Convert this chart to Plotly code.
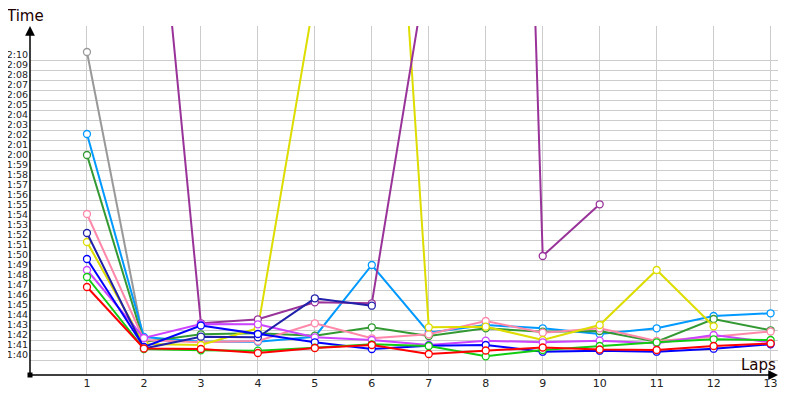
import plotly.graph_objects as go

laps = list(range(1, 14))

# lap times in seconds
red = [106.8, 100.65, 100.6, 100.2, 100.7, 101.0, 100.1, 100.45, 100.75, 100.55, 100.5, 100.9, 101.15]
green = [107.8, 100.6, 100.47, 100.43, 100.73, 101.07, 100.9, 99.87, 100.5, 100.9, 101.27, 101.57, 101.5]
dark_green = [120.0, 101.3, 102.07, 102.17, 101.93, 102.77, 101.9, 102.67, 102.33, 102.4, 101.33, 103.6, 102.47]
blue = [109.6, 100.8, 102.95, 102.1, 101.27, 100.6, 100.93, 101.0, 100.33, 100.43, 100.33, 100.63, 101.07]
navy = [112.2, 100.65, 101.83, 101.77, 105.67, 104.93, None, None, None, None, None, None, None]
purple = [None, 162.0, 103.17, 103.57, 105.27, 105.17, 139.8, 290.0, 109.9, 115.07, None, None, None]
violet = [108.5, 101.7, 103.1, 103.07, 101.77, 101.5, 101.0, 101.43, 101.27, 101.43, 101.17, 102.0, 101.27]
pink = [114.1, 101.5, 101.27, 101.4, 103.17, 101.67, 102.07, 103.4, 102.23, 102.67, 101.4, 101.83, 102.35]
yellow = [111.3, 101.1, 101.0, 102.67, 136.0, 189.0, 102.77, 102.83, 101.5, 103.0, 108.5, 102.87, None]
gray = [130.3, 101.2, None, None, None, None, None, None, None, None, None, None, None]
light_blue = [122.1, 101.8, 101.33, 101.33, 101.83, 109.0, 102.23, 103.0, 102.67, 102.1, 102.67, 103.9, 104.17]

y_tick_vals = list(range(100, 131))
y_tick_text = [f"{v // 60}:{v % 60:02d}" for v in y_tick_vals]
grid_vals = [v - 0.5 for v in y_tick_vals]

series = [
    ("gray", gray, "#999999"),
    ("light_blue", light_blue, "#0099ff"),
    ("dark_green", dark_green, "#339933"),
    ("pink", pink, "#ff88aa"),
    ("yellow", yellow, "#dddd00"),
    ("purple", purple, "#993399"),
    ("violet", violet, "#cc44ff"),
    ("navy", navy, "#2020aa"),
    ("blue", blue, "#0000ff"),
    ("green", green, "#11cc11"),
    ("red", red, "#ff0000"),
]

fig = go.Figure()
for name, vals, col in series:
    fig.add_trace(go.Scatter(
        x=laps, y=vals, name=name, mode="lines+markers",
        line=dict(color=col, width=2),
        marker=dict(symbol="circle", size=7, color="white", line=dict(color=col, width=1.3)),
        connectgaps=False,
    ))

# origin mark
fig.add_trace(go.Scatter(x=[0], y=[98], mode="markers",
                         marker=dict(symbol="square", size=5, color="black"),
                         cliponaxis=False, hoverinfo="skip"))

x_max = 13.13
y_min, y_max = 98, 132.9

fig.update_layout(
    width=800, height=400,
    margin=dict(l=22, r=30, t=18, b=33),
    paper_bgcolor="white", plot_bgcolor="white",
    showlegend=False,
    font=dict(family="DejaVu Sans", color="#222222"),
    xaxis=dict(
        range=[0, x_max], tickvals=laps, ticktext=[str(l) for l in laps],
        showgrid=True, gridcolor="#cccccc", gridwidth=1,
        zeroline=False, showline=False, ticks="", automargin=False,
        tickfont=dict(size=11, color="#222222"),
    ),
    yaxis=dict(
        range=[y_min, y_max], tickvals=y_tick_vals, ticktext=y_tick_text,
        showgrid=False, zeroline=False, showline=False, ticks="", automargin=False,
        tickfont=dict(size=9.5, color="#222222"), ticklabelstandoff=1,
        minor=dict(tickvals=grid_vals, showgrid=True, gridcolor="#cccccc", gridwidth=1, ticks=""),
    ),
    annotations=[
        dict(x=0, y=y_max, ax=0, ay=y_min, xref="x", yref="y", axref="x", ayref="y",
             text="", showarrow=True, arrowhead=2, arrowsize=1.3, arrowwidth=1.5, arrowcolor="black"),
        dict(x=x_max, y=y_min, ax=0, ay=y_min, xref="x", yref="y", axref="x", ayref="y",
             text="", showarrow=True, arrowhead=2, arrowsize=1.3, arrowwidth=1.5, arrowcolor="black"),
        dict(x=12.78, y=99.0, xref="x", yref="y", text="Laps", showarrow=False,
             font=dict(size=15, color="#200000"), xanchor="center", yanchor="middle"),
        dict(x=-0.007, y=1.03, xref="paper", yref="paper", text="Time", showarrow=False,
             font=dict(size=15, color="#200000"), xanchor="center", yanchor="middle"),
    ],
)

fig.write_html("out.html")
